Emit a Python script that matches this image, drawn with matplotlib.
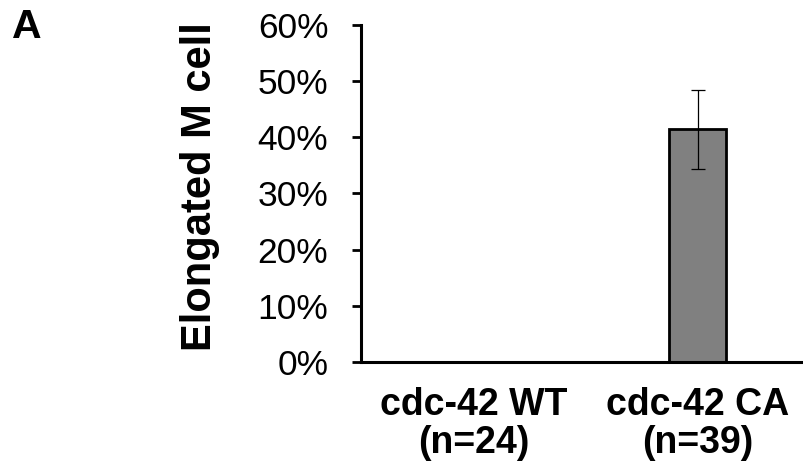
"""Bar chart of elongated M cell fraction, cdc-42 WT vs CA."""

import matplotlib

matplotlib.use("Agg")
import matplotlib.pyplot as plt
from matplotlib.ticker import FuncFormatter, MultipleLocator

plt.rcParams["font.family"] = ["Liberation Sans", "DejaVu Sans"]

categories = ["cdc-42 WT\n(n=24)", "cdc-42 CA\n(n=39)"]
values = [0.0, 0.414]
errors = [0.0, 0.070]

W, H = 804, 473
fig = plt.figure(figsize=(W / 100, H / 100), dpi=100)
ax = fig.add_axes([361 / W, (H - 362) / H, (W - 361) / W, 337 / H])

x = list(range(len(categories)))
# zero-height bar gets no edge so it doesn't show on the axis line
edge_widths = [2.0 if v > 0 else 0 for v in values]
ax.bar(x, values, width=0.254, color="#808080", edgecolor="black",
       linewidth=edge_widths, zorder=2)
for xi, v, e in zip(x, values, errors):
    if e > 0:
        ax.errorbar(xi, v, yerr=e, fmt="none", ecolor="black", elinewidth=0.9,
                    capsize=4.7, capthick=0.9, zorder=3)

ax.set_xlim(-0.502, 1.475)
ax.set_ylim(0, 0.6)
ax.yaxis.set_major_locator(MultipleLocator(0.1))
ax.yaxis.set_major_formatter(FuncFormatter(lambda v, _: f"{v * 100:.0f}%"))

ax.set_xticks(x)
ax.set_xticklabels(categories, fontsize=27, fontweight="bold", linespacing=1.08)
ax.tick_params(axis="x", length=0, pad=18)
ax.tick_params(axis="y", direction="out", length=6.5, width=2.0, labelsize=25.5, pad=17)

for side in ["top", "right"]:
    ax.spines[side].set_visible(False)
ax.spines["left"].set_linewidth(2.2)
ax.spines["bottom"].set_linewidth(2.2)

ax.set_ylabel("Elongated M cell", fontsize=30, fontweight="bold")
ax.yaxis.set_label_coords(-0.318, 0.522)

fig.text(12 / W, 1 - 38 / H, "A", fontsize=29.5, fontweight="bold", ha="left", va="baseline")

fig.savefig("out.png", dpi=100)
